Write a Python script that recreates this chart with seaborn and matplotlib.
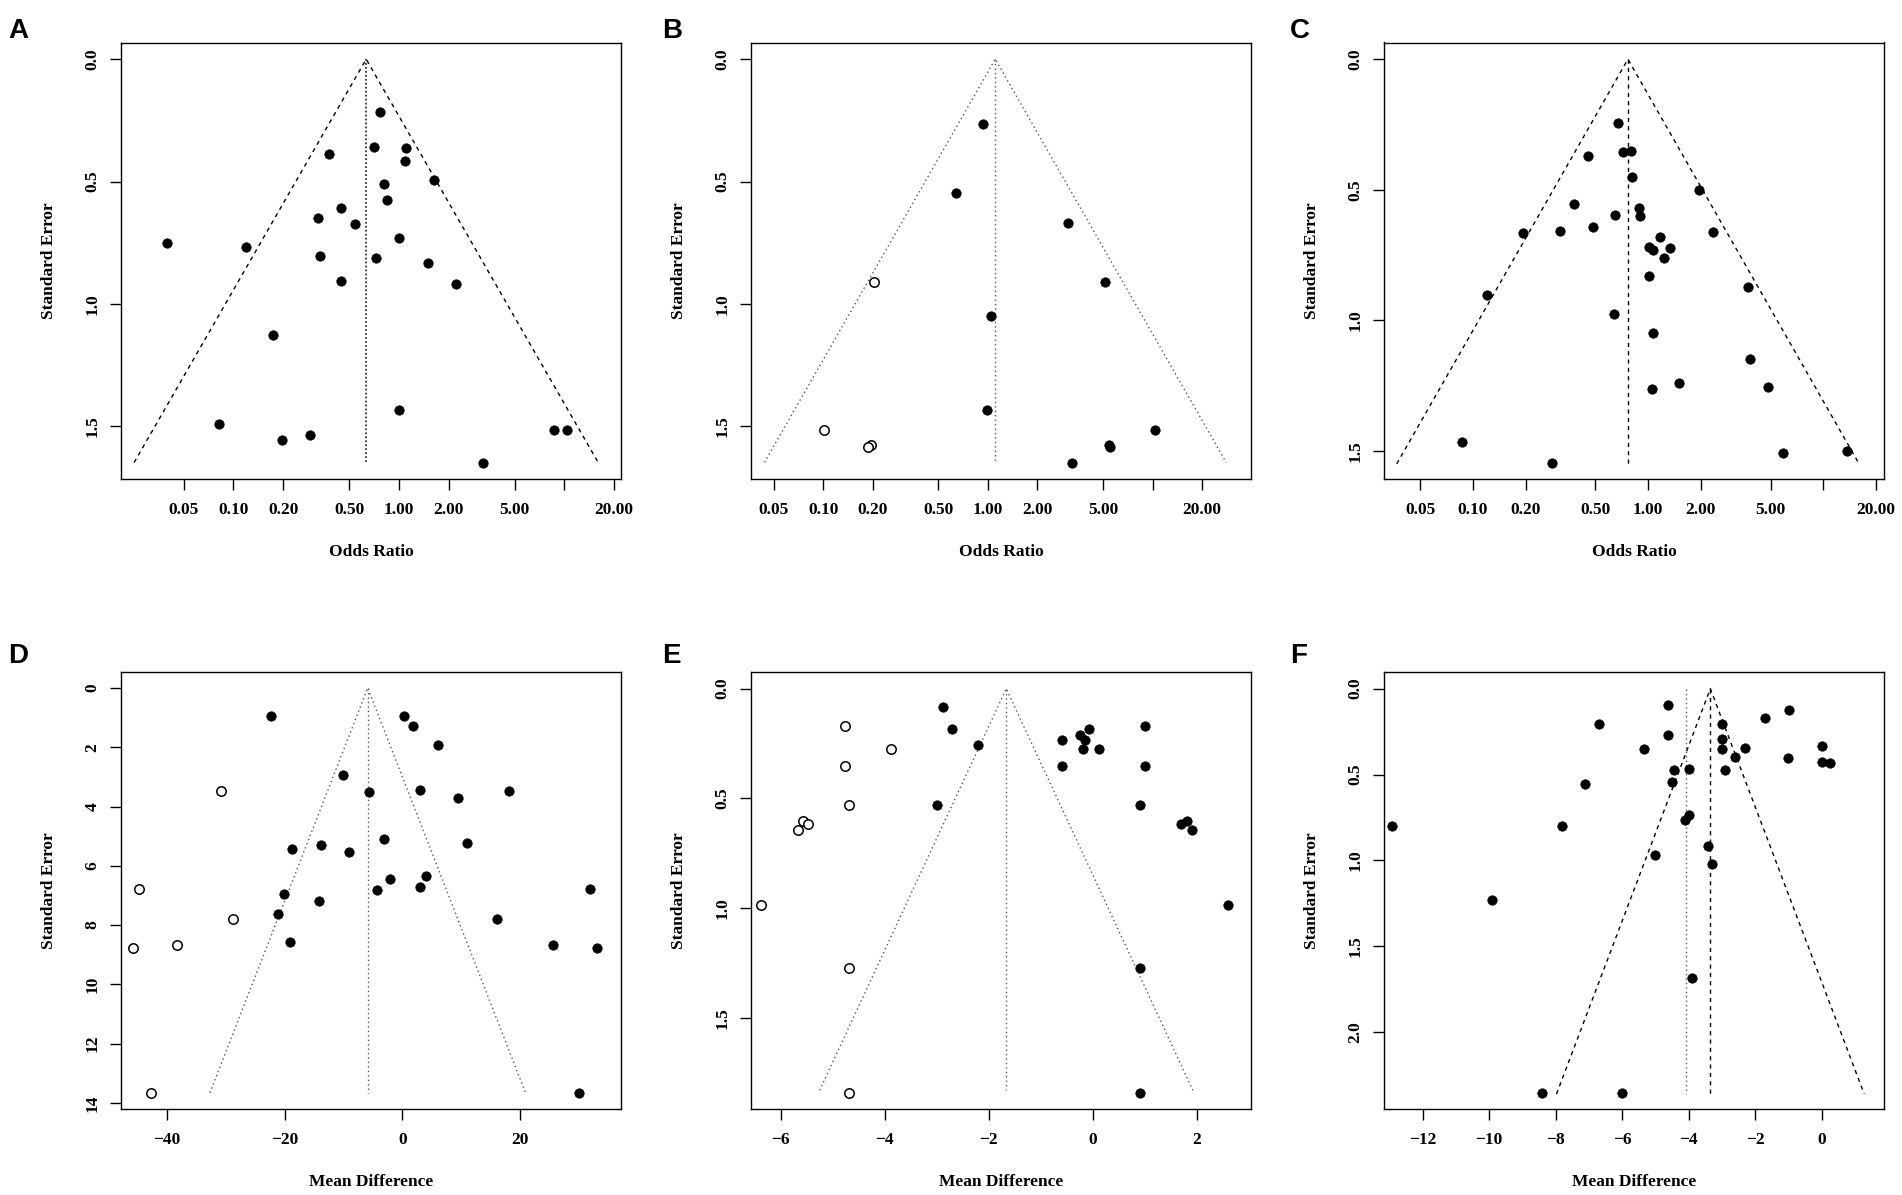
import numpy as np
import pandas as pd
import matplotlib
matplotlib.use("Agg")
import matplotlib.pyplot as plt
from matplotlib.ticker import FixedLocator, NullLocator
import seaborn as sns

sns.set_theme(style="ticks")
plt.rcParams["font.family"] = ["Liberation Serif", "DejaVu Serif"]
plt.rcParams["font.weight"] = "bold"
plt.rcParams["axes.labelweight"] = "bold"
plt.rcParams["axes.unicode_minus"] = True

# ----------------------------------------------------------
# DATA
# ----------------------------------------------------------

# A : odds ratio
a_or = [0.77, 0.711, 1.10, 0.376, 1.089, 1.63, 0.81, 0.848, 0.446, 0.323,
        0.544, 1.0, 0.0398, 0.119, 0.332, 0.723, 1.49, 0.449, 2.20, 0.174,
        1.0, 0.0815, 8.68, 10.35, 0.290, 0.1955, 3.22]
a_se = [0.216, 0.358, 0.364, 0.387, 0.417, 0.492, 0.511, 0.574, 0.606, 0.647,
        0.675, 0.730, 0.751, 0.769, 0.804, 0.811, 0.834, 0.908, 0.917, 1.128,
        1.435, 1.491, 1.515, 1.515, 1.536, 1.557, 1.648]

# B : odds ratio, trim-and-fill (open = filled-in studies)
b_or = [0.929, 0.637, 3.08, 5.15, 1.047, 0.994, 10.35, 5.40, 5.55, 3.23]
b_se = [0.264, 0.548, 0.669, 0.912, 1.050, 1.435, 1.515, 1.576, 1.583, 1.648]
b_or_fill = [0.202, 0.101, 0.194, 0.188]
b_se_fill = [0.912, 1.515, 1.576, 1.583]

# C : odds ratio
c_or = [0.675, 0.719, 0.796, 0.456, 0.809, 1.94, 0.379, 0.890, 0.651, 0.900,
        0.486, 0.193, 0.315, 2.34, 1.166, 1.011, 1.06, 1.325, 1.236, 1.011,
        3.73, 0.120, 0.640, 1.071, 3.83, 1.50, 1.049, 4.86, 0.0871, 5.91,
        13.7, 0.284]
c_se = [0.245, 0.357, 0.353, 0.370, 0.452, 0.501, 0.555, 0.569, 0.596, 0.602,
        0.643, 0.667, 0.659, 0.663, 0.680, 0.720, 0.732, 0.725, 0.762, 0.830,
        0.873, 0.904, 0.975, 1.050, 1.149, 1.241, 1.262, 1.255, 1.467, 1.507,
        1.501, 1.547]

# D : mean difference, trim-and-fill
d_md = [-22.38, 0.28, 1.87, 6.03, -10.05, -5.75, 2.98, 18.09, 9.42, -3.12,
        10.88, -13.79, -18.78, -9.08, 4.02, -2.08, -4.37, 2.91, 31.88, -20.1,
        -14.14, -21.14, 16.08, -19.06, 25.57, 32.99, 29.94]
d_se = [0.96, 0.94, 1.27, 1.94, 2.92, 3.50, 3.45, 3.48, 3.71, 5.09,
        5.23, 5.31, 5.45, 5.55, 6.34, 6.45, 6.81, 6.72, 6.80, 6.94,
        7.18, 7.63, 7.81, 8.56, 8.66, 8.77, 13.66]
d_md_fill = [-30.84, -44.63, -28.83, -38.25, -45.74, -42.62]
d_se_fill = [3.48, 6.80, 7.81, 8.66, 8.77, 13.66]

# E : mean difference, trim-and-fill
e_md = [-2.873, -2.70, -2.198, 1.005, -0.078, -0.251, -0.157, -0.589, -0.196,
        0.110, -0.589, 1.005, -2.998, 0.903, 1.805, 1.703, 1.907, 2.598,
        0.903, 0.903]
e_se = [0.083, 0.182, 0.256, 0.168, 0.183, 0.213, 0.235, 0.232, 0.275,
        0.275, 0.351, 0.353, 0.531, 0.531, 0.602, 0.616, 0.644, 0.984,
        1.275, 1.843]
e_md_fill = [-4.772, -3.87, -4.772, -4.678, -5.58, -5.47, -5.675, -6.37,
             -4.678, -4.678]
e_se_fill = [0.168, 0.275, 0.353, 0.531, 0.602, 0.616, 0.644, 0.984,
             1.275, 1.843]

# F : mean difference
f_md = [-4.636, -0.983, -1.70, -6.70, -3.01, -4.61, -3.01, -3.01, -2.306,
        -5.34, 0.0, -2.61, -1.007, 0.0, 0.255, -4.454, -4.005, -2.90, -4.515,
        -7.11, -12.91, -7.80, -4.126, -4.005, -3.41, -5.0, -3.30, -9.915,
        -3.908, -8.41, -6.007]
f_se = [0.093, 0.126, 0.168, 0.206, 0.208, 0.272, 0.294, 0.349, 0.343,
        0.349, 0.331, 0.396, 0.402, 0.427, 0.431, 0.473, 0.469, 0.473, 0.546,
        0.557, 0.802, 0.802, 0.765, 0.738, 0.913, 0.968, 1.021, 1.231,
        1.684, 2.354, 2.354]
f_md_before = -4.08   # dotted line (estimate before adjustment)

# pooled estimates and funnel depth
centers = {"A": 0.634, "B": 1.108, "C": 0.767, "D": -5.89, "E": -1.664, "F": -3.35}
se_max = {"A": 1.648, "B": 1.647, "C": 1.55, "D": 13.66, "E": 1.83, "F": 2.36}

# axis ranges
xlims = {"A": (0.0209, 22.0), "B": (0.0364, 39.6), "C": (0.0311, 22.2),
         "D": (-47.75, 37.08), "E": (-6.57, 3.04), "F": (-13.16, 1.87)}
ylims = {"A": (1.715, -0.068), "B": (1.715, -0.068), "C": (1.608, -0.064),
         "D": (14.19, -0.539), "E": (1.913, -0.076), "F": (2.444, -0.097)}

or_ticks = [0.05, 0.1, 0.2, 0.5, 1, 2, 5, 10, 20]
or_labels = ["0.05", "0.10", "0.20", "0.50", "1.00", "2.00", "5.00", "", "20.00"]
x_ticks = {"D": [-40, -20, 0, 20], "E": [-6, -4, -2, 0, 2],
           "F": [-12, -10, -8, -6, -4, -2, 0]}
y_ticks = {"A": [0.0, 0.5, 1.0, 1.5], "B": [0.0, 0.5, 1.0, 1.5],
           "C": [0.0, 0.5, 1.0, 1.5], "D": [0, 2, 4, 6, 8, 10, 12, 14],
           "E": [0.0, 0.5, 1.0, 1.5], "F": [0.0, 0.5, 1.0, 1.5, 2.0]}

# ----------------------------------------------------------
# FIGURE
# ----------------------------------------------------------

W, H = 1902, 1195
fig = plt.figure(figsize=(W / 100, H / 100), dpi=100)

col_left = [121, 751, 1384]
row_top = [42.5, 672]
box_w, box_h = 500, 436.5

DOTTED = (0, (1.0, 2.2))
DENSE = (0, (1.0, 1.2))
DASHED = (0, (3.0, 3.0))


def make_ax(row, col):
    l = col_left[col] / W
    b = (H - row_top[row] - box_h) / H
    return fig.add_axes([l, b, box_w / W, box_h / H])


def funnel_lines(ax, c, smax, log, style_f, style_c, color_f, color_c, lw_c=1.0):
    if log:
        lc = np.log(c)
        xs = np.exp([lc - 1.96 * smax, lc, lc + 1.96 * smax])
    else:
        xs = [c - 1.96 * smax, c, c + 1.96 * smax]
    ax.plot(xs, [smax, 0, smax], color=color_f, lw=1.0, linestyle=style_f, zorder=1)
    ax.plot([c, c], [0, smax], color=color_c, lw=lw_c, linestyle=style_c, zorder=1)


def points(ax, x, y, open_=False):
    df = pd.DataFrame({"x": x, "y": y})
    if open_:
        sns.scatterplot(data=df, x="x", y="y", ax=ax, s=46, marker="o",
                        color="white", edgecolor="black", linewidth=1.1, zorder=3)
    else:
        sns.scatterplot(data=df, x="x", y="y", ax=ax, s=46, marker="o",
                        color="black", edgecolor="black", linewidth=0.5, zorder=3)


def style_ax(ax, key, log, xlabel):
    if log:
        ax.set_xscale("log")
        ax.xaxis.set_major_locator(FixedLocator(or_ticks))
        ax.xaxis.set_minor_locator(NullLocator())
        ax.set_xticklabels(or_labels)
    else:
        ax.set_xticks(x_ticks[key])
    ax.set_xlim(*xlims[key])
    ax.set_ylim(*ylims[key])
    ax.set_yticks(y_ticks[key])
    if key == "D":
        ax.set_yticklabels([str(v) for v in y_ticks[key]])
    else:
        ax.set_yticklabels([f"{v:.1f}" for v in y_ticks[key]])
    for lab in ax.get_yticklabels():
        lab.set_rotation(90)
        lab.set_va("center")
    ax.tick_params(axis="both", direction="out", length=7.7, width=1.0,
                   labelsize=12.5, color="black", labelcolor="black")
    ax.tick_params(axis="x", pad=9)
    ax.tick_params(axis="y", pad=7)
    for sp in ax.spines.values():
        sp.set_visible(True)
        sp.set_linewidth(1.0)
        sp.set_color("black")
    ax.set_xlabel(xlabel, fontsize=12.5, fontweight="bold", color="black")
    ax.set_ylabel("Standard Error", fontsize=12.5, fontweight="bold", color="black")
    ax.xaxis.set_label_coords(0.5, -73 / box_h)
    ax.xaxis.label.set_va("center")
    ax.yaxis.set_label_coords(-72 / box_w, 0.5)
    ax.yaxis.label.set_va("center")
    ax.set_facecolor("white")


# A
ax = make_ax(0, 0)
funnel_lines(ax, centers["A"], se_max["A"], True, DASHED, DENSE, "black", "#333333", lw_c=1.3)
points(ax, a_or, a_se)
style_ax(ax, "A", True, "Odds Ratio")

# B
ax = make_ax(0, 1)
funnel_lines(ax, centers["B"], se_max["B"], True, DOTTED, DOTTED, "#555555", "#555555")
points(ax, b_or, b_se)
points(ax, b_or_fill, b_se_fill, open_=True)
style_ax(ax, "B", True, "Odds Ratio")

# C
ax = make_ax(0, 2)
funnel_lines(ax, centers["C"], se_max["C"], True, DASHED, DASHED, "black", "black")
points(ax, c_or, c_se)
style_ax(ax, "C", True, "Odds Ratio")

# D
ax = make_ax(1, 0)
funnel_lines(ax, centers["D"], se_max["D"], False, DOTTED, DOTTED, "#555555", "#555555")
points(ax, d_md, d_se)
points(ax, d_md_fill, d_se_fill, open_=True)
style_ax(ax, "D", False, "Mean Difference")

# E
ax = make_ax(1, 1)
funnel_lines(ax, centers["E"], se_max["E"], False, DOTTED, DOTTED, "#555555", "#555555")
points(ax, e_md, e_se)
points(ax, e_md_fill, e_se_fill, open_=True)
style_ax(ax, "E", False, "Mean Difference")

# F
ax = make_ax(1, 2)
funnel_lines(ax, centers["F"], se_max["F"], False, DASHED, DASHED, "black", "black")
ax.plot([f_md_before, f_md_before], [0, se_max["F"]], color="#555555", lw=1.0,
        linestyle=DOTTED, zorder=1)
points(ax, f_md, f_se)
style_ax(ax, "F", False, "Mean Difference")

# panel letters
letter_x = [8, 662, 1290]
letter_base = [38, 663]
for i, letter in enumerate("ABCDEF"):
    r, c = divmod(i, 3)
    fig.text(letter_x[c] / W, 1 - letter_base[r] / H, letter, ha="left",
             va="baseline", fontsize=20, fontweight="bold",
             family=["Liberation Sans", "DejaVu Sans"], color="black")

fig.savefig("out.png", dpi=100, facecolor="white")
